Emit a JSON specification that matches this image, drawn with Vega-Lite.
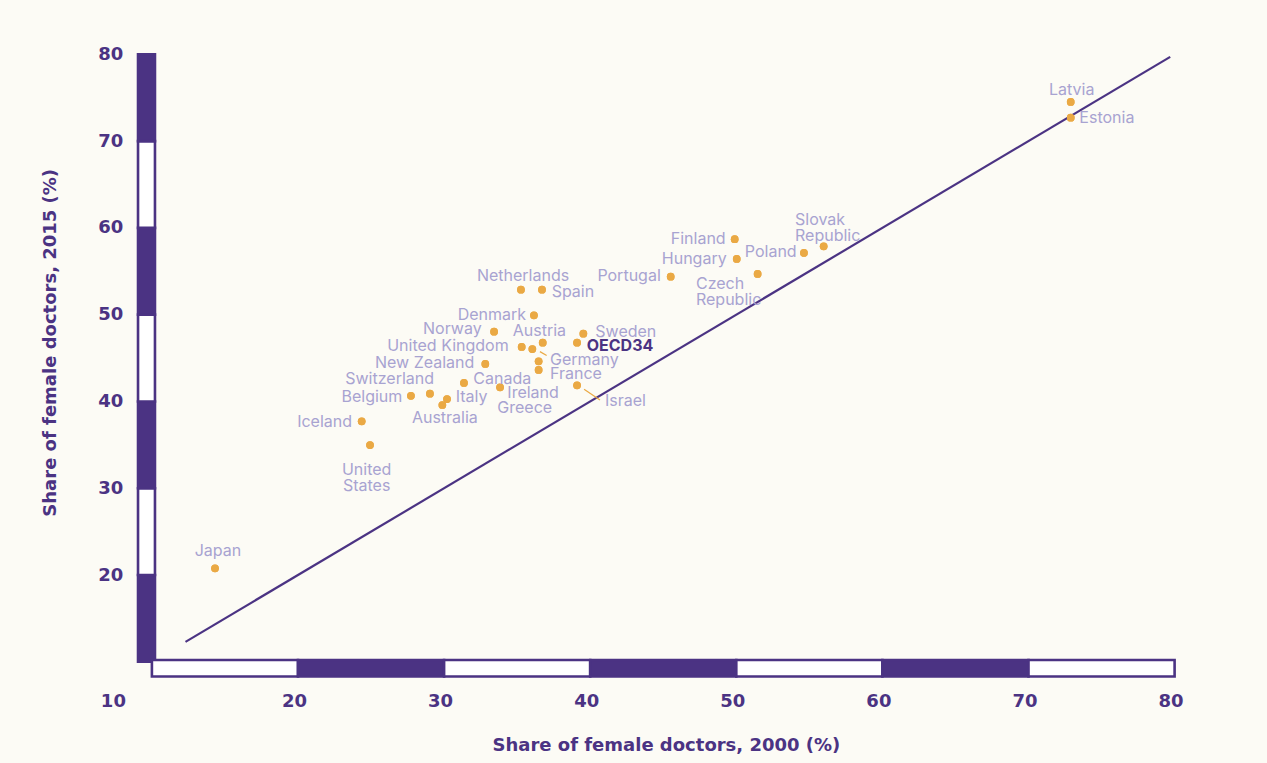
{
  "$schema": "https://vega.github.io/schema/vega-lite/v6.json",
  "width": 1022.7,
  "height": 607.5,
  "autosize": {"type": "none"},
  "padding": {"left": 151.9, "top": 54.3, "right": 92.4, "bottom": 101.2},
  "background": "#fcfbf5",
  "config": {
    "view": {"stroke": null},
    "font": "Inter",
    "text": {"lineBreak": "\n"},
    "axis": {"domain": false, "ticks": false, "tickSize": 0, "grid": false, "labelFlush": false, "labelOverlap": false,
             "labelFont": "DejaVu Sans", "labelFontSize": 18, "labelFontWeight": "bold", "labelColor": "#4b3383",
             "titleFont": "DejaVu Sans", "titleFontSize": 18, "titleFontWeight": "bold", "titleColor": "#4b3383", "labelPadding": 29}
  },
  "datasets": {
    "bar": [
      {"axis": "y", "lo": 10, "hi": 20, "shade": "dark"},
      {"axis": "y", "lo": 20, "hi": 30, "shade": "light"},
      {"axis": "y", "lo": 30, "hi": 40, "shade": "dark"},
      {"axis": "y", "lo": 40, "hi": 50, "shade": "light"},
      {"axis": "y", "lo": 50, "hi": 60, "shade": "dark"},
      {"axis": "y", "lo": 60, "hi": 70, "shade": "light"},
      {"axis": "y", "lo": 70, "hi": 80, "shade": "dark"},
      {"axis": "x", "lo": 10, "hi": 20, "shade": "light"},
      {"axis": "x", "lo": 20, "hi": 30, "shade": "dark"},
      {"axis": "x", "lo": 30, "hi": 40, "shade": "light"},
      {"axis": "x", "lo": 40, "hi": 50, "shade": "dark"},
      {"axis": "x", "lo": 50, "hi": 60, "shade": "light"},
      {"axis": "x", "lo": 60, "hi": 70, "shade": "dark"},
      {"axis": "x", "lo": 70, "hi": 80, "shade": "light"}
    ],
    "diag": [{"v": 12.3}, {"v": 79.7}],
    "leaders": [
      {"country": "Germany", "x": 36.56, "y": 45.74},
      {"country": "Germany", "x": 37.02, "y": 45.29},
      {"country": "Israel", "x": 39.58, "y": 41.40},
      {"country": "Israel", "x": 40.67, "y": 40.17}
    ],
    "countries": [
      {"country": "Japan", "label": "Japan", "x2000": 14.32, "y2015": 20.77, "lx": 14.52, "ly": 22.80, "anchor": "center"},
      {"country": "United States", "label": "United\nStates", "x2000": 24.93, "y2015": 34.98, "lx": 24.70, "ly": 32.14, "anchor": "center"},
      {"country": "Iceland", "label": "Iceland", "x2000": 24.36, "y2015": 37.71, "lx": 23.70, "ly": 37.66, "anchor": "right"},
      {"country": "Belgium", "label": "Belgium", "x2000": 27.73, "y2015": 40.65, "lx": 27.14, "ly": 40.55, "anchor": "right"},
      {"country": "Switzerland", "label": "Switzerland", "x2000": 29.03, "y2015": 40.89, "lx": 29.31, "ly": 42.55, "anchor": "right"},
      {"country": "Italy", "label": "Italy", "x2000": 30.20, "y2015": 40.28, "lx": 30.79, "ly": 40.55, "anchor": "left"},
      {"country": "Australia", "label": "Australia", "x2000": 29.88, "y2015": 39.59, "lx": 30.05, "ly": 38.13, "anchor": "center"},
      {"country": "Canada", "label": "Canada", "x2000": 31.36, "y2015": 42.13, "lx": 32.00, "ly": 42.55, "anchor": "left"},
      {"country": "Ireland", "label": "Ireland", "x2000": 33.83, "y2015": 41.63, "lx": 34.33, "ly": 41.01, "anchor": "left"},
      {"country": "Greece", "label": "Greece", "x2000": 36.47, "y2015": 44.63, "lx": 33.64, "ly": 39.28, "anchor": "left"},
      {"country": "New Zealand", "label": "New Zealand", "x2000": 32.82, "y2015": 44.32, "lx": 32.07, "ly": 44.40, "anchor": "right"},
      {"country": "United Kingdom", "label": "United Kingdom", "x2000": 35.31, "y2015": 46.28, "lx": 34.42, "ly": 46.39, "anchor": "right"},
      {"country": "Norway", "label": "Norway", "x2000": 33.42, "y2015": 48.04, "lx": 32.57, "ly": 48.32, "anchor": "right"},
      {"country": "Denmark", "label": "Denmark", "x2000": 36.15, "y2015": 49.93, "lx": 35.61, "ly": 49.96, "anchor": "right"},
      {"country": "Netherlands", "label": "Netherlands", "x2000": 35.26, "y2015": 52.88, "lx": 35.40, "ly": 54.49, "anchor": "center"},
      {"country": "Spain", "label": "Spain", "x2000": 36.70, "y2015": 52.88, "lx": 37.36, "ly": 52.61, "anchor": "left"},
      {"country": "Austria", "label": "Austria", "x2000": 36.75, "y2015": 46.77, "lx": 36.52, "ly": 48.15, "anchor": "center"},
      {"country": "Germany", "label": "Germany", "x2000": 36.04, "y2015": 46.04, "lx": 37.25, "ly": 44.78, "anchor": "left"},
      {"country": "France", "label": "France", "x2000": 36.47, "y2015": 43.63, "lx": 37.25, "ly": 43.16, "anchor": "left"},
      {"country": "Sweden", "label": "Sweden", "x2000": 39.53, "y2015": 47.81, "lx": 40.35, "ly": 48.04, "anchor": "left"},
      {"country": "OECD34", "label": "OECD34", "x2000": 39.10, "y2015": 46.77, "lx": 39.76, "ly": 46.39, "anchor": "oecd"},
      {"country": "Israel", "label": "Israel", "x2000": 39.10, "y2015": 41.86, "lx": 41.01, "ly": 40.05, "anchor": "left"},
      {"country": "Portugal", "label": "Portugal", "x2000": 45.51, "y2015": 54.38, "lx": 44.83, "ly": 54.42, "anchor": "right"},
      {"country": "Finland", "label": "Finland", "x2000": 49.89, "y2015": 58.69, "lx": 49.27, "ly": 58.69, "anchor": "right"},
      {"country": "Hungary", "label": "Hungary", "x2000": 50.03, "y2015": 56.42, "lx": 49.34, "ly": 56.45, "anchor": "right"},
      {"country": "Czech Republic", "label": "Czech\nRepublic", "x2000": 51.46, "y2015": 54.69, "lx": 47.24, "ly": 53.54, "anchor": "left"},
      {"country": "Poland", "label": "Poland", "x2000": 54.63, "y2015": 57.11, "lx": 54.13, "ly": 57.19, "anchor": "right"},
      {"country": "Slovak Republic", "label": "Slovak\nRepublic", "x2000": 55.98, "y2015": 57.88, "lx": 54.02, "ly": 60.88, "anchor": "left"},
      {"country": "Latvia", "label": "Latvia", "x2000": 72.89, "y2015": 74.51, "lx": 72.96, "ly": 75.89, "anchor": "center"},
      {"country": "Estonia", "label": "Estonia", "x2000": 72.89, "y2015": 72.70, "lx": 73.48, "ly": 72.63, "anchor": "left"}
    ]
  },
  "layer": [
    {
      "data": {"name": "countries"},
      "mark": {"type": "circle", "size": 60, "color": "#eaa944", "opacity": 1},
      "encoding": {
        "x": {
          "field": "x2000", "type": "quantitative",
          "scale": {"domain": [10, 80], "nice": false, "zero": false},
          "axis": {
            "values": [10, 20, 30, 40, 50, 60, 70, 80],
            "title": "Share of female doctors, 2000 (%)",
            "labelOffset": {"condition": {"test": "datum.value === 10", "value": -39}, "value": -4},
            "labelPadding": 31,
            "titleX": 514, "titleY": 84, "titleBaseline": "middle", "titleAlign": "center"
          }
        },
        "y": {
          "field": "y2015", "type": "quantitative",
          "scale": {"domain": [10, 80], "nice": false, "zero": false},
          "axis": {
            "values": [20, 30, 40, 50, 60, 70, 80],
            "title": "Share of female doctors, 2015 (%)",
            "titleX": -101, "titleY": 288, "titleBaseline": "middle", "titleAlign": "center", "titleAngle": -90
          }
        }
      }
    },
    {
      "data": {"name": "bar"},
      "transform": [{"filter": "datum.axis === 'y'"}],
      "mark": {"type": "rect", "stroke": "#4b3383", "strokeWidth": 2.6},
      "encoding": {
        "x": {"datum": 9.05, "type": "quantitative"},
        "x2": {"datum": 10.21},
        "y": {"field": "lo", "type": "quantitative"},
        "y2": {"field": "hi"},
        "fill": {"field": "shade", "type": "nominal", "scale": {"domain": ["dark", "light"], "range": ["#4b3383", "#ffffff"]}, "legend": null}
      }
    },
    {
      "data": {"name": "bar"},
      "transform": [{"filter": "datum.axis === 'x'"}],
      "mark": {"type": "rect", "stroke": "#4b3383", "strokeWidth": 2.6},
      "encoding": {
        "x": {"field": "lo", "type": "quantitative"},
        "x2": {"field": "hi"},
        "y": {"datum": 10.2, "type": "quantitative"},
        "y2": {"datum": 8.3},
        "fill": {"field": "shade", "type": "nominal", "scale": {"domain": ["dark", "light"], "range": ["#4b3383", "#ffffff"]}, "legend": null}
      }
    },
    {
      "data": {"name": "diag"},
      "mark": {"type": "line", "color": "#4b3383", "strokeWidth": 2.2},
      "encoding": {
        "x": {"field": "v", "type": "quantitative"},
        "y": {"field": "v", "type": "quantitative"}
      }
    },
    {
      "data": {"name": "leaders"},
      "mark": {"type": "line", "color": "#eaa944", "strokeWidth": 1.2},
      "encoding": {
        "x": {"field": "x", "type": "quantitative"},
        "y": {"field": "y", "type": "quantitative"},
        "detail": {"field": "country"}
      }
    },
    {
      "data": {"name": "countries"},
      "mark": {"type": "circle", "size": 60, "color": "#eaa944", "opacity": 1},
      "encoding": {
        "x": {"field": "x2000", "type": "quantitative"},
        "y": {"field": "y2015", "type": "quantitative"}
      }
    },
    {
      "data": {"name": "countries"},
      "transform": [{"filter": "datum.anchor === 'left'"}],
      "mark": {"type": "text", "align": "left", "baseline": "middle", "fontSize": 16, "color": "#a8a3d1", "lineHeight": 16},
      "encoding": {
        "x": {"field": "lx", "type": "quantitative"},
        "y": {"field": "ly", "type": "quantitative"},
        "text": {"field": "label"}
      }
    },
    {
      "data": {"name": "countries"},
      "transform": [{"filter": "datum.anchor === 'right'"}],
      "mark": {"type": "text", "align": "right", "baseline": "middle", "fontSize": 16, "color": "#a8a3d1", "lineHeight": 16},
      "encoding": {
        "x": {"field": "lx", "type": "quantitative"},
        "y": {"field": "ly", "type": "quantitative"},
        "text": {"field": "label"}
      }
    },
    {
      "data": {"name": "countries"},
      "transform": [{"filter": "datum.anchor === 'center'"}],
      "mark": {"type": "text", "align": "center", "baseline": "middle", "fontSize": 16, "color": "#a8a3d1", "lineHeight": 16},
      "encoding": {
        "x": {"field": "lx", "type": "quantitative"},
        "y": {"field": "ly", "type": "quantitative"},
        "text": {"field": "label"}
      }
    },
    {
      "data": {"name": "countries"},
      "transform": [{"filter": "datum.anchor === 'oecd'"}],
      "mark": {"type": "text", "align": "left", "baseline": "middle", "fontSize": 16, "fontWeight": "bold", "color": "#4b3383"},
      "encoding": {
        "x": {"field": "lx", "type": "quantitative"},
        "y": {"field": "ly", "type": "quantitative"},
        "text": {"field": "label"}
      }
    }
  ]
}
